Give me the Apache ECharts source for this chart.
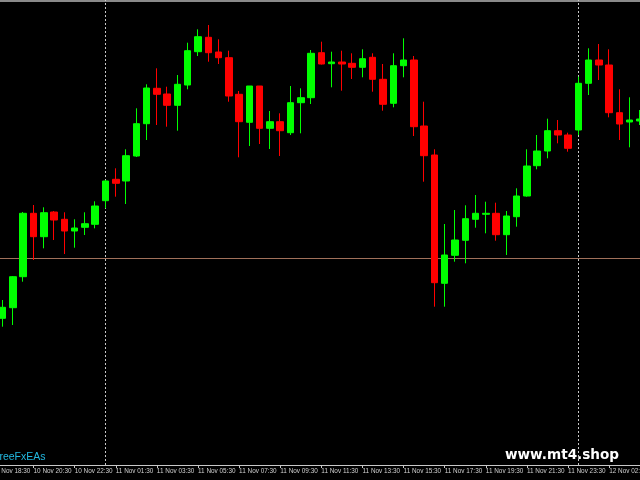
<!DOCTYPE html>
<html>
<head>
<meta charset="utf-8">
<style>
html,body{margin:0;padding:0;background:#000;}
#chart{width:640px;height:480px;}
</style>
<script src="https://cdn.jsdelivr.net/npm/echarts@6/dist/echarts.min.js"></script>
</head>
<body>
<div id="chart"></div>
<script>
// M30 bar times
var categories = [
 '10 Nov 18:30','10 Nov 19:00','10 Nov 19:30','10 Nov 20:00','10 Nov 20:30','10 Nov 21:00','10 Nov 21:30','10 Nov 22:00',
 '10 Nov 22:30','10 Nov 23:00','10 Nov 23:30','11 Nov 01:00','11 Nov 01:30','11 Nov 02:00','11 Nov 02:30','11 Nov 03:00',
 '11 Nov 03:30','11 Nov 04:00','11 Nov 04:30','11 Nov 05:00','11 Nov 05:30','11 Nov 06:00','11 Nov 06:30','11 Nov 07:00',
 '11 Nov 07:30','11 Nov 08:00','11 Nov 08:30','11 Nov 09:00','11 Nov 09:30','11 Nov 10:00','11 Nov 10:30','11 Nov 11:00',
 '11 Nov 11:30','11 Nov 12:00','11 Nov 12:30','11 Nov 13:00','11 Nov 13:30','11 Nov 14:00','11 Nov 14:30','11 Nov 15:00',
 '11 Nov 15:30','11 Nov 16:00','11 Nov 16:30','11 Nov 17:00','11 Nov 17:30','11 Nov 18:00','11 Nov 18:30','11 Nov 19:00',
 '11 Nov 19:30','11 Nov 20:00','11 Nov 20:30','11 Nov 21:00','11 Nov 21:30','11 Nov 22:00','11 Nov 22:30','11 Nov 23:00',
 '11 Nov 23:30','12 Nov 01:00','12 Nov 01:30','12 Nov 02:00','12 Nov 02:30','12 Nov 03:00','12 Nov 03:30','12 Nov 04:00'
];
var opens = [
 135,146.7,157.3,188.3,251.7,228.3,253,245.7,
 234,237.7,240.7,264.3,285.7,284,309,341.3,
 376.7,371,359.7,380,413.3,427.7,413,407.3,
 370.7,342.7,379,336.7,343.3,332.3,362.3,367.3,
 412.3,401.3,403,401.7,397.7,407.7,385.7,361.7,
 399.3,405,339,310,181.7,209.7,224.7,245.7,
 250.7,251.7,230.3,248.3,269,299.3,314,334.3,
 330,335,381.7,405,400,352.3,343,344
];
var closes = [
 147,157.7,188.3,251.7,228.3,252.3,245,234,
 237,241.3,259,284,281.7,309.3,341.3,377,
 370.7,359.7,380.7,414.3,428.3,412.3,407.3,369,
 343.3,379,336.7,343.3,334.3,362.3,367.3,411.7,
 401,403,401,397.7,406.3,385.7,360.7,399.3,
 405,338.3,309.3,182.3,210,225,246.3,251.7,
 251.7,230.3,249,269,299,314,334.3,330,
 316.7,381.7,405,400,352.3,341,345,346
];
var lows = [
 130,138.3,140,183.3,205,216.7,225,211,
 217.3,230,236.7,256.7,268.3,261,308,325,
 340,338.3,334.3,375.7,409,403.3,401,363.3,
 307.7,319,321,316,309,330,331.7,361,
 400.5,377.7,374.3,386,387.7,373.3,354.3,357.7,
 387.7,329,283.3,158.3,158.3,203.3,201.7,237.3,
 231.7,224.3,210,238.3,268.3,295.7,306.7,321.7,
 313.3,330,370,385,347.7,325,317.7,340
];
var highs = [
 153,165,189,253,260,257.7,254,252.7,
 245.7,252.7,263.7,285,296.7,315.7,356.7,380.7,
 396.7,378.3,390,422.3,435.7,440,425.7,414.3,
 374,379,379,354,351.7,379,376.7,415,
 423.3,413.3,414.3,411.7,415.7,411.7,401,411.7,
 426.7,409,363.3,315.7,241,255,259.7,270,
 263.3,262.3,254,276.7,315.7,330,346.3,345,
 332.3,388.3,416.7,421,415.7,375.7,367.7,355
];
var priceLine = 207;
var separators = ['11 Nov 01:00', '12 Nov 01:00'];

var candleData = categories.map(function(c, i){ return [opens[i], closes[i], lows[i], highs[i]]; });

var chart = echarts.init(document.getElementById('chart'), null, {renderer:'canvas'});
chart.setOption({
  backgroundColor: '#000000',
  animation: false,
  grid: {left: -12.74, width: 657.9, top: 0, bottom: 15, containLabel: false, outerBoundsMode: 'none'},
  xAxis: {
    type: 'category',
    data: categories,
    boundaryGap: true,
    axisLine: {show: true, lineStyle: {color: '#c8c8c8', width: 1}},
    axisTick: {show: true, alignWithLabel: true, interval: 3, length: 3, lineStyle: {color: '#c8c8c8'}},
    axisLabel: {
      show: true, interval: 3, align: 'left', margin: 3, showMinLabel: true, hideOverlap: false,
      color: '#d0d0d0', fontSize: 6.4, fontFamily: 'Liberation Sans'
    },
    splitLine: {show: false}
  },
  yAxis: {
    type: 'value', min: 0, max: 465, show: false, splitLine: {show: false}
  },
  series: [{
    type: 'line',
    data: [],
    z: 1,
    silent: true,
    markLine: {
      silent: true, symbol: ['none','none'], animation: false,
      label: {show: false},
      data: [
        {yAxis: priceLine, lineStyle: {color: '#a0705a', width: 1, type: 'solid'}},
        {xAxis: separators[0], lineStyle: {color: '#c8c8c8', width: 1, type: [2,2]}},
        {xAxis: separators[1], lineStyle: {color: '#c8c8c8', width: 1, type: [2,2]}}
      ]
    }
  }, {
    type: 'candlestick',
    data: candleData,
    z: 5,
    barWidth: 7,
    itemStyle: {
      color: '#00ff00', color0: '#ff0000',
      borderColor: '#00ff00', borderColor0: '#ff0000', borderWidth: 1
    }
  }],
  graphic: [
    {type: 'rect', left: 0, top: 0, shape: {width: 640, height: 2}, style: {fill: '#8a8a8a'}, silent: true},
    {type: 'text', x: -7, y: 452, style: {text: 'FreeFxEAs', fill: '#22b8e0', font: '10.5px "Liberation Sans"'}, silent: true},
    {type: 'text', x: 505, y: 448, style: {text: 'www.mt4.shop', fill: '#ffffff', font: 'bold 13.6px "DejaVu Sans"'}, silent: true}
  ]
});
</script>
</body>
</html>
